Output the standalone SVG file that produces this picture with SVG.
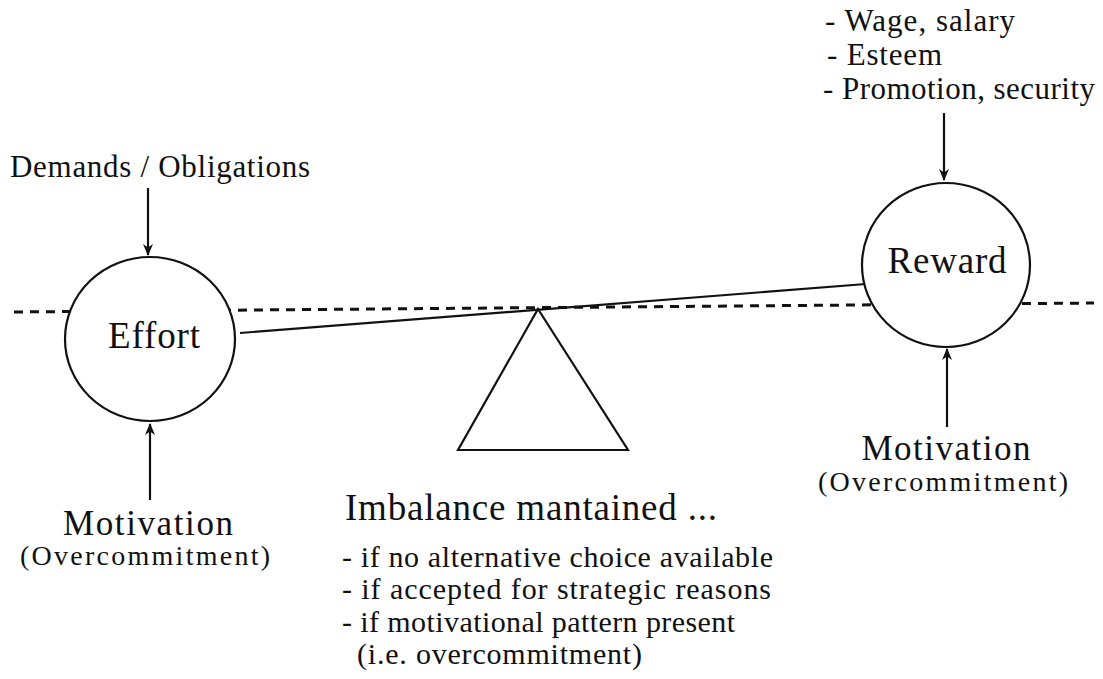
<svg xmlns="http://www.w3.org/2000/svg" width="1103" height="679" viewBox="0 0 1103 679">
<defs>
<style>
.t{font-family:'Liberation Serif','Times New Roman',Times,serif;fill:#111}
.node{fill:#fff;stroke:#111;stroke-width:2.2}
.ln{stroke:#111;stroke-width:2.2;fill:none}
.dash{stroke:#111;stroke-width:3;stroke-dasharray:9 7;fill:none}
.big{font-size:37px}
.mot{font-size:35px}
.mid{font-size:31px}
.sm{font-size:30px}
.oc{font-size:28px}
</style>
<marker id="ah2" viewBox="0 0 12 10" refX="11" refY="5" markerWidth="12" markerHeight="10" markerUnits="userSpaceOnUse" orient="auto">
<path d="M0,0 L12,5 L0,10 L3.5,5 Z" fill="#111"/>
</marker>
</defs>
<rect width="1103" height="679" fill="#fff"/>
<g id="connectors">
<line class="dash" x1="14" y1="312" x2="1094" y2="303"/>
<line class="ln" x1="240" y1="333" x2="866" y2="284"/>
<line class="ln" x1="148" y1="188" x2="148" y2="255" marker-end="url(#ah2)"/>
<line class="ln" x1="150" y1="500" x2="150" y2="424" marker-end="url(#ah2)"/>
<line class="ln" x1="944" y1="113" x2="944" y2="180" marker-end="url(#ah2)"/>
<line class="ln" x1="947" y1="427" x2="947" y2="349" marker-end="url(#ah2)"/>
</g>
<g font-family="Liberation Serif, Times New Roman, serif">
<g id="effort">
<ellipse class="node" cx="150" cy="339" rx="85" ry="82"/>
<text class="t big" x="154" y="348" text-anchor="middle" textLength="92">Effort</text>
</g>
<g id="reward">
<ellipse class="node" cx="946" cy="265" rx="84" ry="82"/>
<text class="t big" x="947" y="273" text-anchor="middle" textLength="119">Reward</text>
</g>
<g id="fulcrum">
<polygon class="ln" points="538,309 628,450 458,450"/>
</g>
<g id="demands">
<text class="t mid" x="10" y="177" textLength="300">Demands / Obligations</text>
</g>
<g id="reward-items">
<text class="t mid" x="825" y="31" textLength="190">- Wage, salary</text>
<text class="t mid" x="827" y="65" textLength="115">- Esteem</text>
<text class="t mid" x="823" y="99" textLength="272">- Promotion, security</text>
</g>
<g id="motivation-left">
<text class="t mot" x="148" y="535" text-anchor="middle" textLength="170">Motivation</text>
<text class="t oc" x="145" y="565" text-anchor="middle" textLength="250">(Overcommitment)</text>
</g>
<g id="motivation-right">
<text class="t mot" x="946" y="460" text-anchor="middle" textLength="169">Motivation</text>
<text class="t oc" x="943" y="491" text-anchor="middle" textLength="250">(Overcommitment)</text>
</g>
<g id="imbalance">
<text class="t big" x="345" y="520" textLength="372">Imbalance mantained ...</text>
<text class="t sm" x="342" y="567" textLength="431">- if no alternative choice available</text>
<text class="t sm" x="342" y="599" textLength="429">- if accepted for strategic reasons</text>
<text class="t sm" x="342" y="632" textLength="393">- if motivational pattern present</text>
<text class="t sm" x="357" y="664" textLength="285">(i.e. overcommitment)</text>
</g>
</g>
</svg>
